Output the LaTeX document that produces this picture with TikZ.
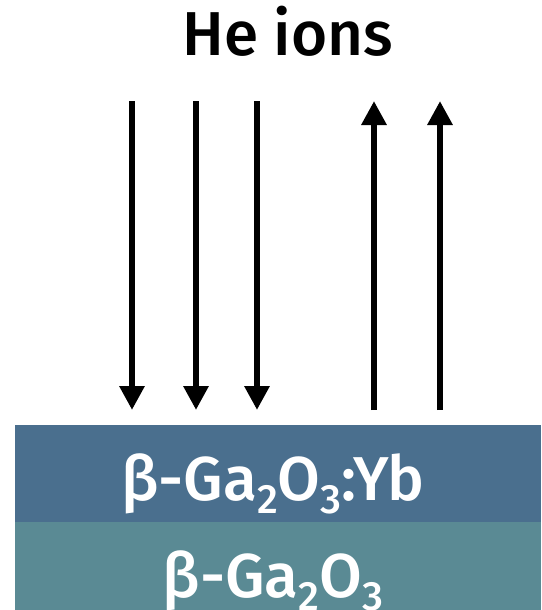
\documentclass[tikz,border=0pt]{standalone}
\usepackage{fontspec}
\setmainfont{Fira Sans}[BoldFont={Fira Sans Medium}]
\usetikzlibrary{arrows.meta}
\definecolor{layerA}{HTML}{4A6F8E}
\definecolor{layerB}{HTML}{5A8A94}
\newcommand\mysub[1]{\raisebox{-0.21em}{\fontsize{41}{41}\selectfont\bfseries #1}}
\tikzset{
  ion/.style={line width=6.5pt, -{Triangle[width=24pt,length=24pt]}},
  layertext/.style={text=white, font=\fontsize{62}{62}\selectfont\bfseries, anchor=base, inner sep=0pt},
}
\begin{document}
\begin{tikzpicture}[x=1pt,y=-1pt]
\useasboundingbox (0,0) rectangle (541,610);
\clip (0,0) rectangle (541,610);
\fill[layerA] (15,425) rectangle (541,522);
\fill[layerB] (15,522) rectangle (541,610);
\node[anchor=base, inner sep=0pt, font=\fontsize{62}{62}\selectfont\bfseries] (title) at (288,56) {He ions};
\node[layertext] (top) at (273,500) {β-Ga\mysub{2}O\mysub{3}:Yb};
\node[layertext] (bot) at (273,597) {β-Ga\mysub{2}O\mysub{3}};
\foreach \x/\n in {132/a,196/b,257/c}{
  \coordinate (s\n) at (\x,101);
  \coordinate (e\n) at (\x,410);
  \draw[ion] (s\n) -- (e\n);
}
\foreach \x/\n in {374/d,440/e}{
  \coordinate (s\n) at (\x,410);
  \coordinate (e\n) at (\x,101);
  \draw[ion] (s\n) -- (e\n);
}
\end{tikzpicture}
\end{document}
